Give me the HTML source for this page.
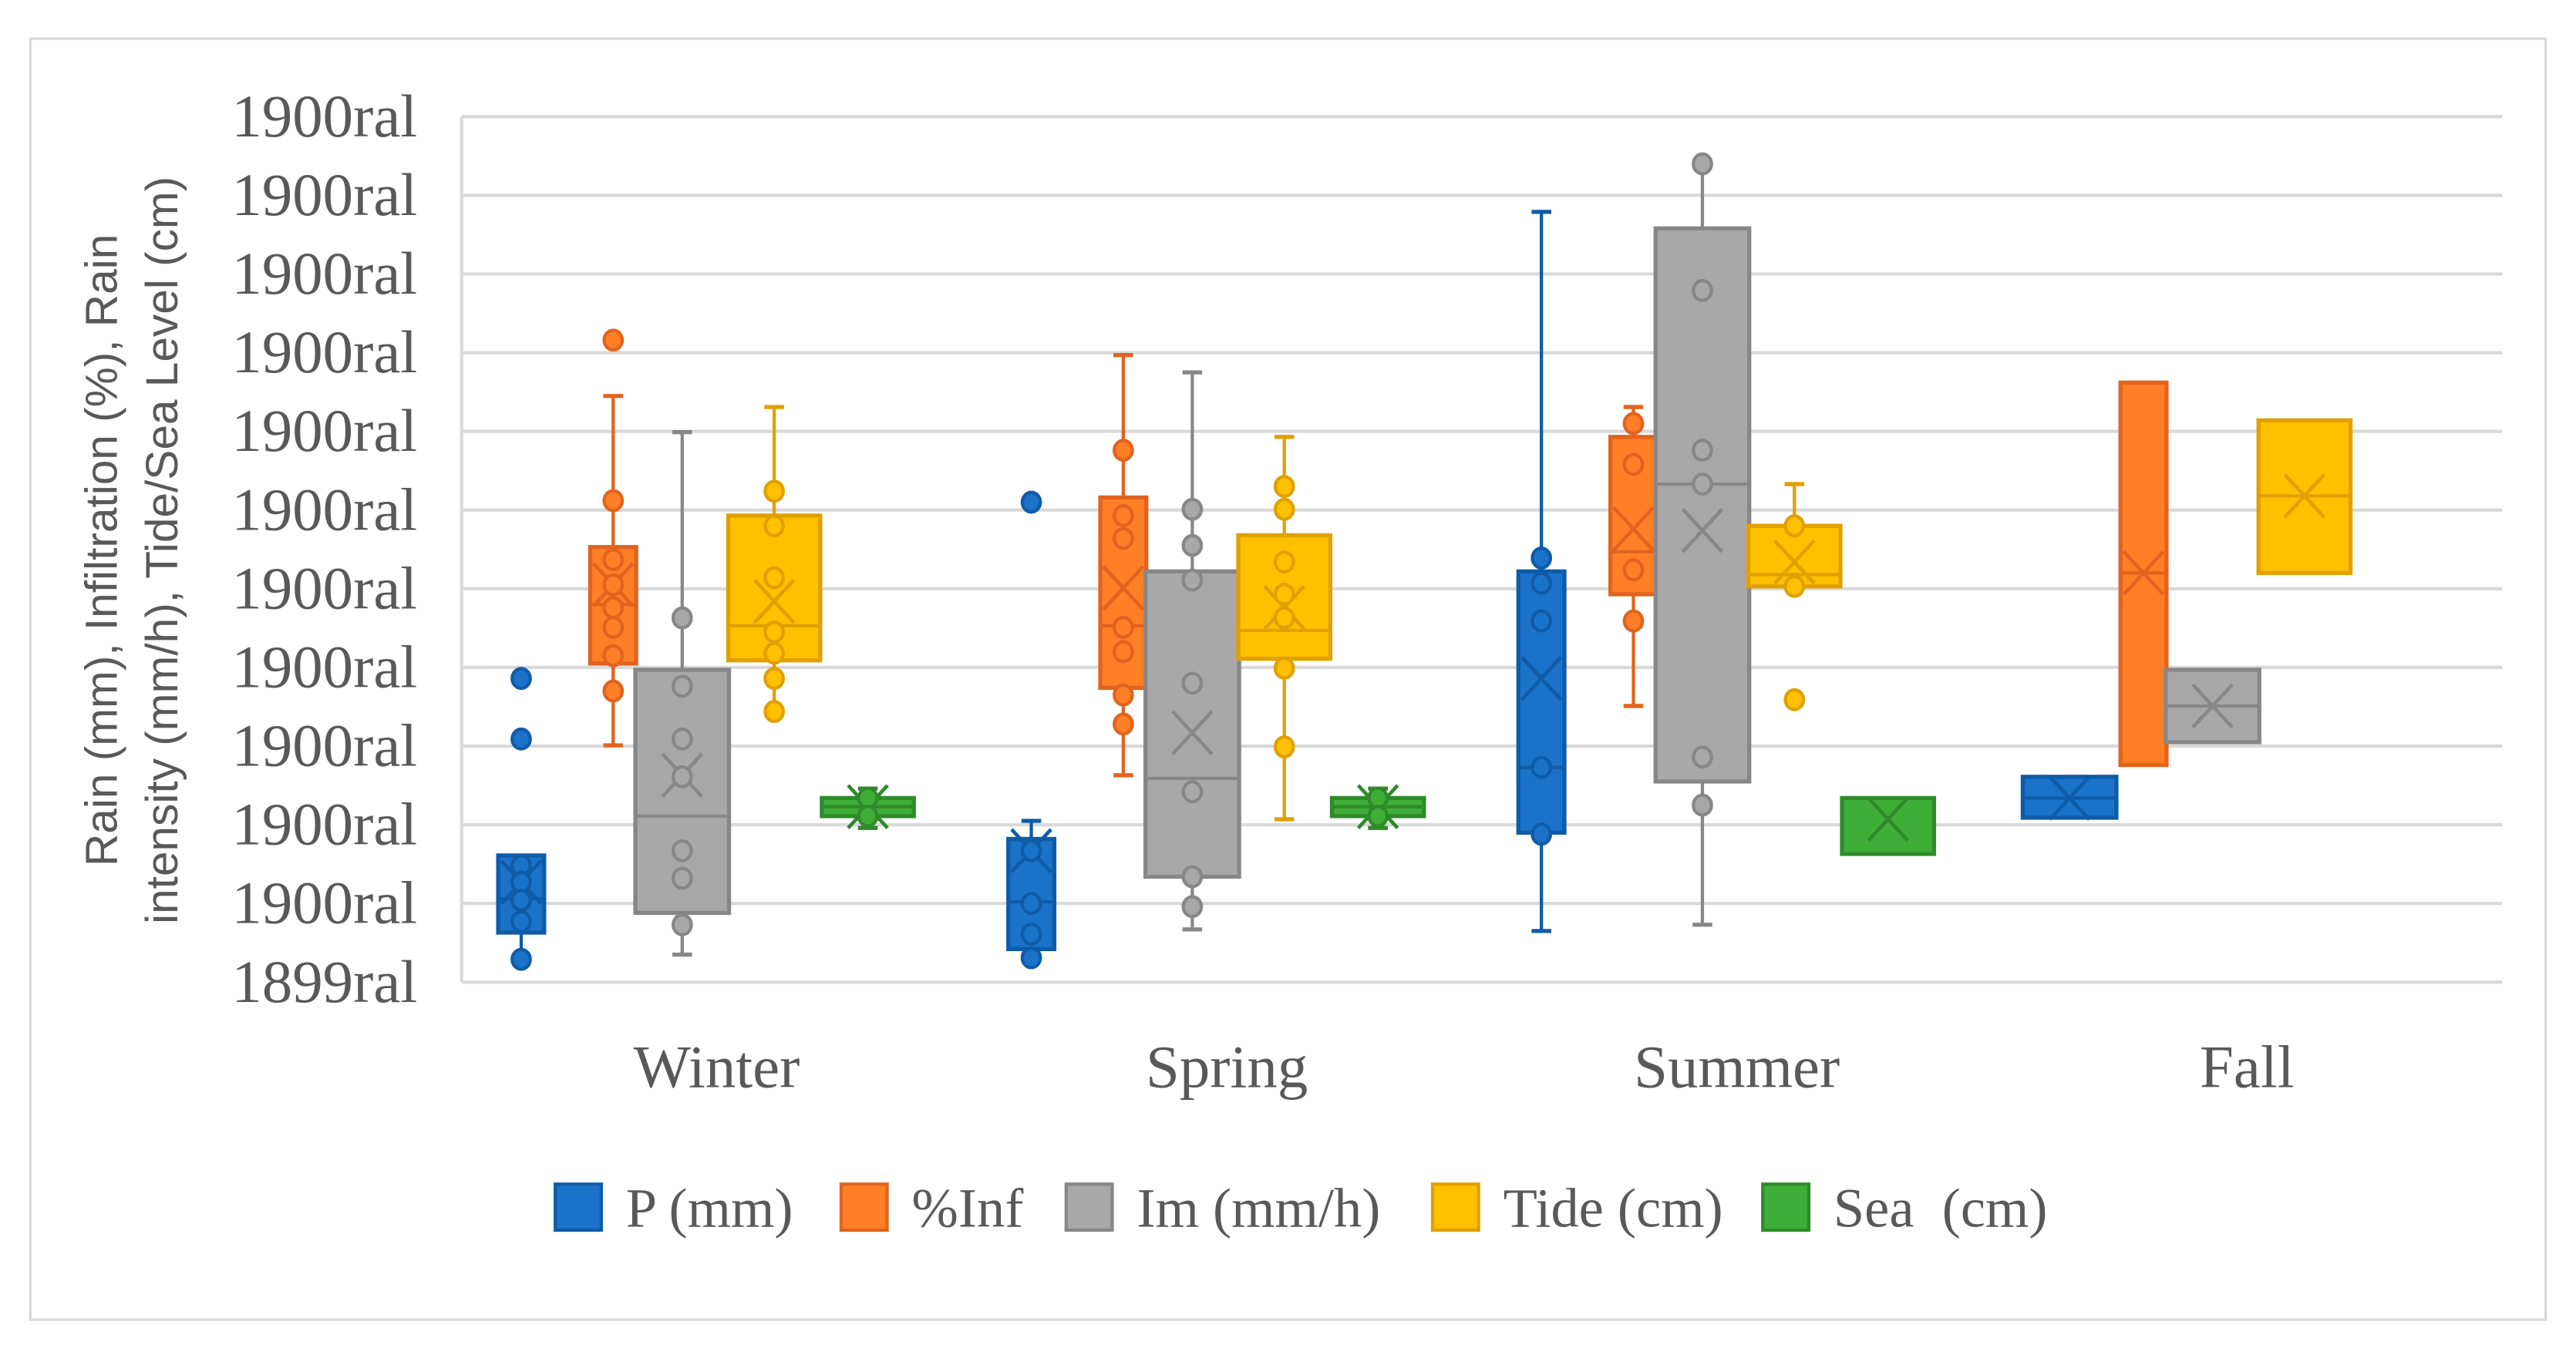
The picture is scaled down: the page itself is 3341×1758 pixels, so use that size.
<!DOCTYPE html>
<html><head><meta charset="utf-8"><style>
html,body{margin:0;padding:0;background:#fff;}
svg{display:block;}
</style></head><body>
<svg id="chart" width="3341" height="1758" viewBox="0 0 1568 825" xmlns="http://www.w3.org/2000/svg">
<rect x="18.5" y="23.5" width="1531" height="780" fill="#fff" stroke="#d9d9d9" stroke-width="1.5"/>
<g id="grid"></g>
<g id="yticks"></g>
<g id="boxes"></g>
<g id="cats"></g>
<g font-family="'Liberation Sans', sans-serif" font-size="27.5" fill="#595959" text-anchor="middle">
<text transform="translate(71,335) rotate(-90)">Rain (mm), Infiltration (%), Rain</text>
<text transform="translate(108,335) rotate(-90)">intensity (mm/h), Tide/Sea Level (cm)</text>
</g>
<g id="legend" font-family="'Liberation Serif', serif" font-size="34" fill="#595959"></g>
</svg>
<script>
const categories = ["Winter","Spring","Summer","Fall"];
const seriesNames = ["P (mm)","%Inf","Im (mm/h)","Tide (cm)","Sea  (cm)"];
const tickLabels = ["1899ral","1900ral","1900ral","1900ral","1900ral","1900ral","1900ral","1900ral","1900ral","1900ral","1900ral","1900ral"];
// each stat: [whiskerLow, q1, median, q3, whiskerHigh, mean]
const pStats   = [[0.29,0.63,1.06,1.61,1.61,1.27],[0.31,0.42,1.02,1.82,2.05,1.67],[0.65,1.90,2.73,5.22,9.79,3.86],[2.09,2.09,2.34,2.61,2.61,2.34]];
const infStats = [[3.01,4.05,4.80,5.53,7.45,5.05],[2.63,3.74,4.53,6.16,7.97,5.01],[3.51,4.93,5.47,6.93,7.31,5.76],[2.76,2.76,5.20,7.62,7.62,5.20]];
const imStats  = [[0.35,0.88,2.11,3.97,6.99,2.63],[0.67,1.34,2.59,5.22,7.75,3.17],[0.73,2.55,6.33,9.58,10.40,5.74],[3.05,3.05,3.51,3.97,3.97,3.51]];
const tideStats= [[3.44,4.09,4.53,5.93,7.31,4.84],[2.07,4.11,4.47,5.68,6.93,4.76],[5.03,5.03,5.18,5.80,6.33,5.34],[5.20,5.20,6.18,7.14,7.14,6.18]];
const seaStats = [[1.96,2.11,2.23,2.34,2.46,2.23],[1.96,2.11,2.23,2.34,2.46,2.23],[1.63,1.63,2.34,2.34,2.34,2.07],null];
const pPoints   = [[3.86,3.09,1.48,1.27,1.04,0.77,0.29],[6.10,1.67,1.00,0.61,0.31],[5.39,5.07,4.59,2.73,1.88],[]];
const infPoints = [[8.16,6.12,5.37,5.05,4.76,4.51,4.15,3.70],[6.76,5.93,5.64,4.51,4.20,3.65,3.28],[7.10,6.58,5.24,4.59],[]];
const imPoints  = [[4.63,3.76,3.09,2.61,1.67,1.32,0.73],[6.01,5.55,5.11,3.80,2.42,1.34,0.96],[10.40,8.79,6.76,6.33,2.86,2.25],[]];
const tidePoints= [[6.24,5.80,5.14,4.45,4.18,3.86,3.44],[6.30,6.01,5.34,4.93,4.63,3.99,2.99],[5.80,5.03,3.59],[]];
const seaPoints = [[2.34,2.11],[2.34,2.11],[],[]];

const allStats=[pStats,infStats,imStats,tideStats,seaStats];
const allPoints=[pPoints,infPoints,imPoints,tidePoints,seaPoints];
const fills=["#1a73c9","#ff7f27","#a8a8a8","#ffc000","#3fae39"];
const strokes=["#0f5ba8","#e0641e","#878787","#e0a000","#2e8a2a"];
const NS="http://www.w3.org/2000/svg";
const X0=281,X1=1523,Y0=598,Y1=71;
const yScale=v=>Y0-(v/(tickLabels.length-1))*(Y0-Y1);
const catW=(X1-X0)/categories.length;
const catX=i=>X0+catW*(i+0.5);
const offs=[-119,-63,-21,35,92];
const widths=[28,28,57,56,56];
function mk(tag,attrs,parent){const e=document.createElementNS(NS,tag);for(const k in attrs)e.setAttribute(k,attrs[k]);parent.appendChild(e);return e;}
const grid=document.getElementById('grid');
tickLabels.forEach((t,i)=>{
  const y=yScale(i);
  const l=mk('line',{x1:X0,x2:X1,y1:y,y2:y,stroke:'#d9d9d9','stroke-width':2},grid);
  
  
  const tx=mk('text',{x:254,y:y+12,'text-anchor':'end','font-family':"'Liberation Serif', serif",'font-size':37,fill:'#595959'},document.getElementById('yticks'));
  tx.textContent=t;
  
  
});
const ax=mk('line',{x1:X0,x2:X0,y1:Y1,y2:Y0,stroke:'#d9d9d9','stroke-width':2},grid);


categories.forEach((c,i)=>{
  const t=mk('text',{x:catX(i),y:662,'text-anchor':'middle','font-family':"'Liberation Serif', serif",'font-size':37,fill:'#595959'},document.getElementById('cats'));
  t.textContent=c;
  
  
});
const bg=document.getElementById('boxes');
categories.forEach((c,ci)=>{
  const isFall=ci===3;
  allStats.forEach((st,si)=>{
    const s=st[ci]; if(!s) return;
    let cx=catX(ci)+offs[si], w=widths[si];
    if(isFall && si===0){cx=catX(ci)-108;w=57;}
    const g=mk('g',{},bg);
    
    
    const sc=strokes[si];
    const [wl,q1,md,q3,wh,mn]=s;
    if(wh>q3){mk('line',{x1:cx,x2:cx,y1:yScale(q3),y2:yScale(wh),stroke:sc,'stroke-width':2},g);mk('line',{x1:cx-6,x2:cx+6,y1:yScale(wh),y2:yScale(wh),stroke:sc,'stroke-width':2.5},g);}
    if(wl<q1){mk('line',{x1:cx,x2:cx,y1:yScale(q1),y2:yScale(wl),stroke:sc,'stroke-width':2},g);mk('line',{x1:cx-6,x2:cx+6,y1:yScale(wl),y2:yScale(wl),stroke:sc,'stroke-width':2.5},g);}
    mk('rect',{x:cx-w/2,y:yScale(q3),width:w,height:yScale(q1)-yScale(q3),fill:fills[si],stroke:sc,'stroke-width':2.5},g);
    mk('line',{x1:cx-w/2,x2:cx+w/2,y1:yScale(md),y2:yScale(md),stroke:sc,'stroke-width':2},g);
    const my=yScale(mn),d=Math.min(w/2-2,12);
    mk('path',{d:`M${cx-d},${my-13}L${cx+d},${my+13}M${cx+d},${my-13}L${cx-d},${my+13}`,stroke:sc,'stroke-width':2.2,fill:'none'},g);
    allPoints[si][ci].forEach(v=>{
      const p=mk('ellipse',{cx:cx,cy:yScale(v),rx:5.5,ry:6,fill:fills[si],stroke:sc,'stroke-width':2},g);
      
      
    });
  });
});
const lg=document.getElementById('legend');
const lx=[338,512,649,872,1073];
seriesNames.forEach((n,i)=>{
  const g=mk('g',{},lg);
  
  
  mk('rect',{x:lx[i],y:721,width:28,height:28,fill:fills[i],stroke:strokes[i],'stroke-width':2},g);
  const t=mk('text',{x:lx[i]+43,y:747},g);
  t.setAttribute('xml:space','preserve');
  t.style.whiteSpace='pre';
  t.textContent=n;
});
</script>
</body></html>
